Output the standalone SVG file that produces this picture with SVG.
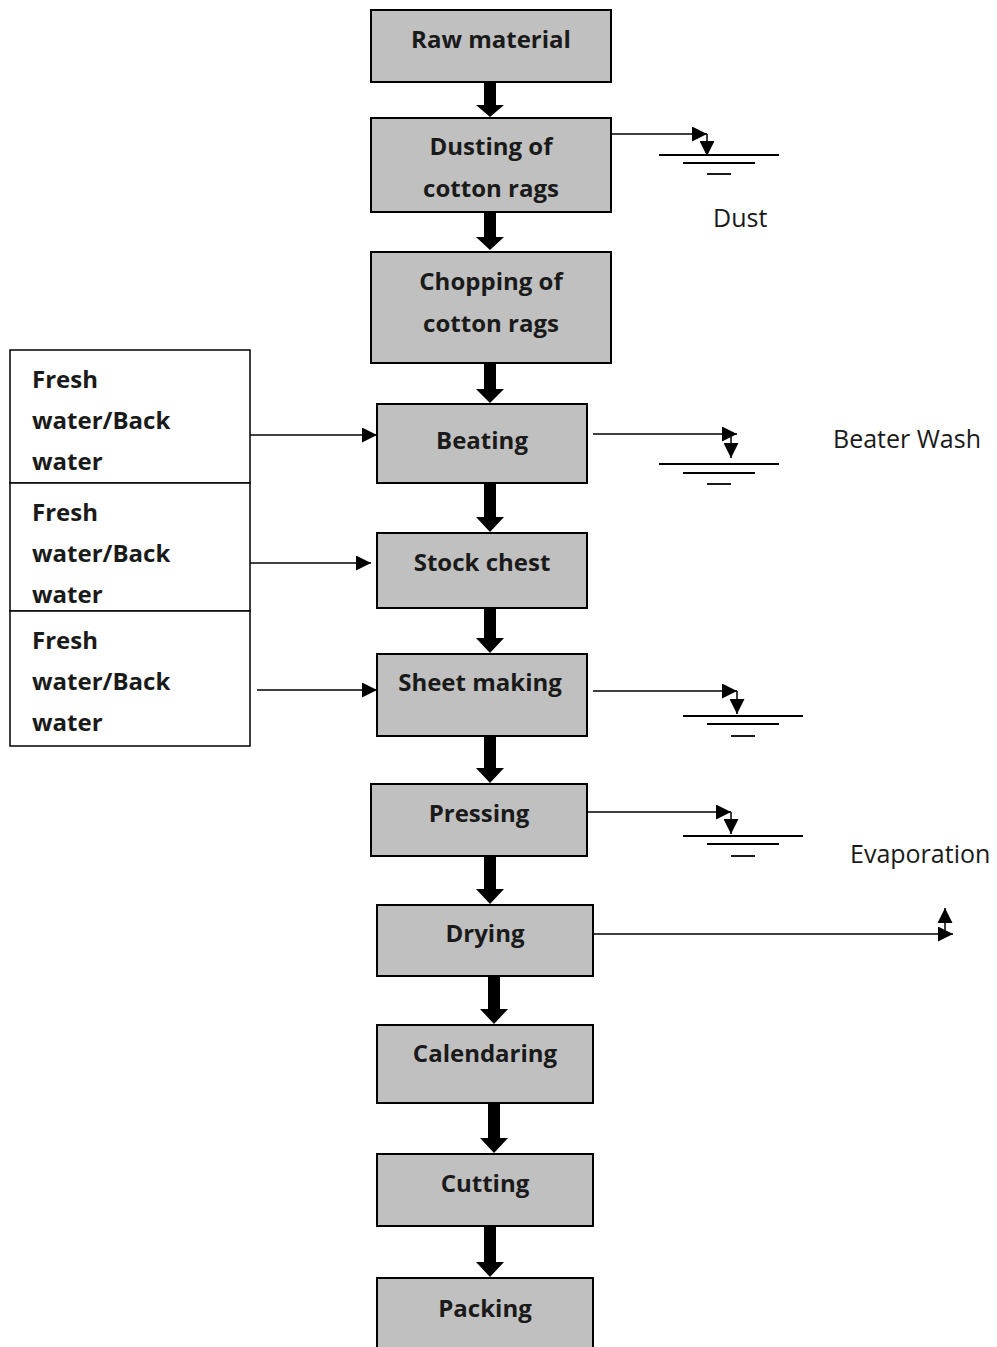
<svg xmlns="http://www.w3.org/2000/svg" width="997" height="1347" viewBox="0 0 997 1347">
<style>
.box{fill:#c0c0c0;stroke:#000;stroke-width:2}
.wbox{fill:#fff;stroke:#000;stroke-width:1.5}
.t{font-family:"Open Sans","Liberation Sans",sans-serif;font-weight:bold;font-size:24px;fill:#1a1a1a;text-anchor:middle}
.tl{font-family:"Open Sans","Liberation Sans",sans-serif;font-weight:bold;font-size:24px;fill:#1a1a1a}
.lab{font-family:"Open Sans","Liberation Sans",sans-serif;font-size:25px;fill:#1a1a1a}
.ln{stroke:#000;stroke-width:1.5;fill:none}
.gl{stroke:#000;stroke-width:1.8}
</style>
<defs>
<marker id="ah" viewBox="0 0 10 10" refX="10" refY="5" markerWidth="15" markerHeight="15" markerUnits="userSpaceOnUse" orient="auto"><path d="M0,0 L10,5 L0,10 z" fill="#000"/></marker>
</defs>
<rect width="997" height="1347" fill="#fff"/>
<g id="n-raw"><rect class="box" x="371" y="10" width="240" height="72"/><text class="t" x="491" y="48">Raw material</text></g>
<g id="n-dusting"><rect class="box" x="371" y="118" width="240" height="94"/><text class="t" x="491" y="155">Dusting of</text><text class="t" x="491" y="197">cotton rags</text></g>
<g id="n-chopping"><rect class="box" x="371" y="252" width="240" height="111"/><text class="t" x="491" y="290">Chopping of</text><text class="t" x="491" y="332">cotton rags</text></g>
<g id="n-beating"><rect class="box" x="377" y="404" width="210" height="79"/><text class="t" x="482" y="449">Beating</text></g>
<g id="n-stock"><rect class="box" x="377" y="533" width="210" height="75"/><text class="t" x="482" y="571">Stock chest</text></g>
<g id="n-sheet"><rect class="box" x="377" y="654" width="210" height="82"/><text class="t" x="480" y="691">Sheet making</text></g>
<g id="n-pressing"><rect class="box" x="371" y="784" width="216" height="72"/><text class="t" x="479" y="822">Pressing</text></g>
<g id="n-drying"><rect class="box" x="377" y="905" width="216" height="71"/><text class="t" x="485" y="942">Drying</text></g>
<g id="n-calendaring"><rect class="box" x="377" y="1025" width="216" height="78"/><text class="t" x="485" y="1062">Calendaring</text></g>
<g id="n-cutting"><rect class="box" x="377" y="1154" width="216" height="72"/><text class="t" x="485" y="1192">Cutting</text></g>
<g id="n-packing"><rect class="box" x="377" y="1278" width="216" height="80"/><text class="t" x="485" y="1317">Packing</text></g>
<g id="n-water1"><rect class="wbox" x="10" y="350" width="240" height="133"/><text class="tl" x="32" y="388">Fresh</text><text class="tl" x="32" y="429">water/Back</text><text class="tl" x="32" y="470">water</text></g>
<g id="n-water2"><rect class="wbox" x="10" y="483" width="240" height="128"/><text class="tl" x="32" y="521">Fresh</text><text class="tl" x="32" y="562">water/Back</text><text class="tl" x="32" y="603">water</text></g>
<g id="n-water3"><rect class="wbox" x="10" y="611" width="240" height="135"/><text class="tl" x="32" y="649">Fresh</text><text class="tl" x="32" y="690">water/Back</text><text class="tl" x="32" y="731">water</text></g>
<g id="labels">
<text class="lab" x="713" y="227">Dust</text>
<text class="lab" x="833" y="448">Beater Wash</text>
<text class="lab" x="850" y="863">Evaporation</text>
</g>
<g id="connectors">
<path d="M484,82h12v23h8l-14,12l-14,-12h8z" fill="#000"/>
<path d="M484,212h12v25h8l-14,13l-14,-13h8z" fill="#000"/>
<path d="M484,363h12v26h8l-14,14l-14,-14h8z" fill="#000"/>
<path d="M484,483h12v34h8l-14,15l-14,-15h8z" fill="#000"/>
<path d="M484,608h12v30h8l-14,15l-14,-15h8z" fill="#000"/>
<path d="M484,736h12v32h8l-14,15l-14,-15h8z" fill="#000"/>
<path d="M484,856h12v33h8l-14,15l-14,-15h8z" fill="#000"/>
<path d="M488,976h12v33h8l-14,15l-14,-15h8z" fill="#000"/>
<path d="M488,1103h12v35h8l-14,15l-14,-15h8z" fill="#000"/>
<path d="M484,1226h12v36h8l-14,15l-14,-15h8z" fill="#000"/>
<line class="ln" x1="250" y1="435" x2="377" y2="435" marker-end="url(#ah)"/>
<line class="ln" x1="250" y1="563" x2="371" y2="563" marker-end="url(#ah)"/>
<line class="ln" x1="257" y1="690" x2="377" y2="690" marker-end="url(#ah)"/>
<line class="ln" x1="611" y1="134" x2="707" y2="134" marker-end="url(#ah)"/>
<line class="ln" x1="707" y1="134" x2="707" y2="156" marker-end="url(#ah)"/>
<line class="gl" x1="659" y1="155" x2="779" y2="155"/>
<line class="gl" x1="683" y1="163" x2="755" y2="163"/>
<line class="gl" x1="707" y1="174" x2="731" y2="174"/>
<line class="ln" x1="593" y1="434" x2="737" y2="434" marker-end="url(#ah)"/>
<line class="ln" x1="731" y1="434" x2="731" y2="458" marker-end="url(#ah)"/>
<line class="gl" x1="659" y1="464" x2="779" y2="464"/>
<line class="gl" x1="683" y1="473" x2="755" y2="473"/>
<line class="gl" x1="707" y1="484" x2="731" y2="484"/>
<line class="ln" x1="593" y1="691" x2="737" y2="691" marker-end="url(#ah)"/>
<line class="ln" x1="737" y1="691" x2="737" y2="714" marker-end="url(#ah)"/>
<line class="gl" x1="683" y1="716" x2="803" y2="716"/>
<line class="gl" x1="707" y1="724" x2="779" y2="724"/>
<line class="gl" x1="731" y1="736" x2="755" y2="736"/>
<line class="ln" x1="587" y1="812" x2="731" y2="812" marker-end="url(#ah)"/>
<line class="ln" x1="731" y1="812" x2="731" y2="834" marker-end="url(#ah)"/>
<line class="gl" x1="683" y1="836" x2="803" y2="836"/>
<line class="gl" x1="707" y1="844" x2="779" y2="844"/>
<line class="gl" x1="731" y1="856" x2="755" y2="856"/>
<line class="ln" x1="593" y1="934" x2="953" y2="934" marker-end="url(#ah)"/>
<line class="ln" x1="945" y1="934" x2="945" y2="908" marker-end="url(#ah)"/>
</g>
</svg>
